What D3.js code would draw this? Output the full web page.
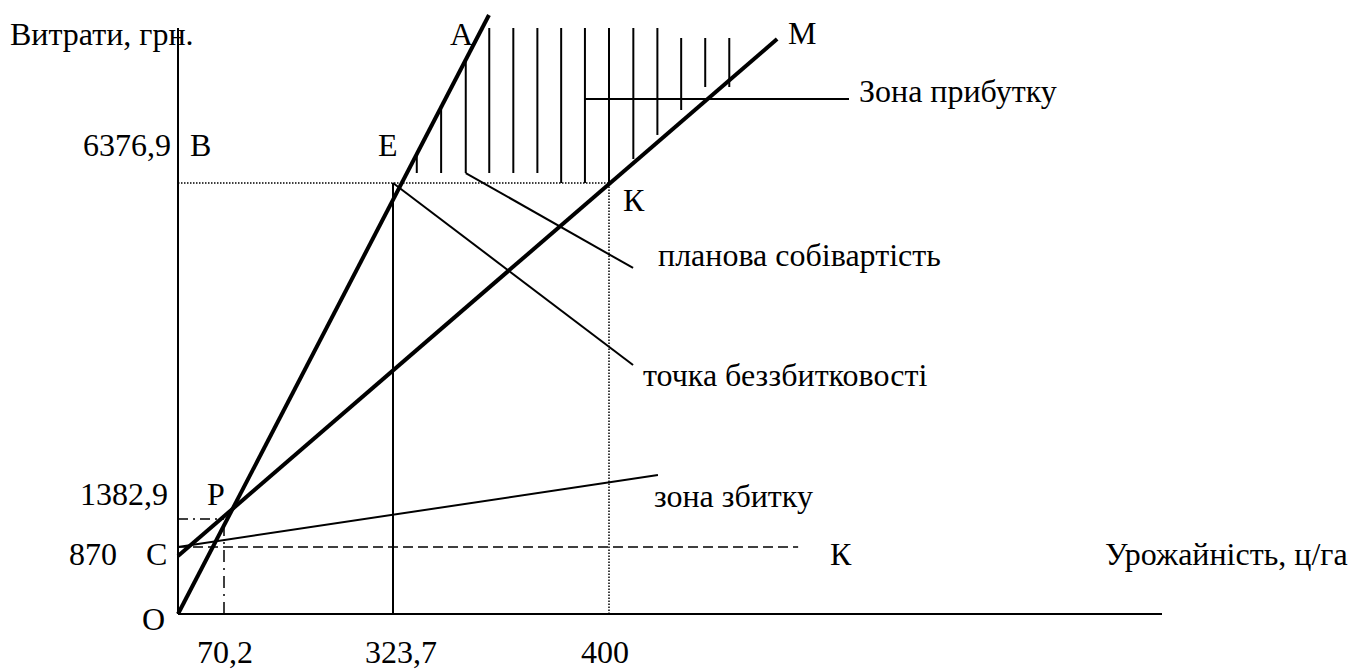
<!DOCTYPE html>
<html>
<head>
<meta charset="utf-8">
<script src="https://cdn.jsdelivr.net/npm/d3@7"></script>
<style>
  body { margin: 0; background: #fff; }
  svg text { font-family: "Liberation Serif", "Times New Roman", Times, "DejaVu Serif", serif; font-size: 32px; fill: #000; }
</style>
</head>
<body>
<div id="chart"></div>
<script>
var xTicks = [70.2, 323.7, 400];          // урожайність, ц/га
var yTicks = [870, 1382.9, 6376.9];       // витрати, грн
var xTickLabels = ["70,2", "323,7", "400"];
var yTickLabels = ["870", "1382,9", "6376,9"];

var costLine = [[0, 0], [357.6, 8885]];         // O -> A
var revenueLine = [[0, 753], [460.8, 8527]];    // -> M
var lossLine = [[0, 870], [417.7, 2037]];       // C -> зона збитку
var fixedLine = [[0, 870], [468.4, 870]];       // C -> K

// hatch of the profit zone
var hatchX = [332.1, 340.7, 349.4, 357.7, 366.2, 374.7, 383.1, 391.5, 400, 408.8, 417.5, 426.1, 434.8, 443.5];
var hatchTop = [6810, 7504, 8213, 8691, 8691, 8691, 8691, 8691, 8691, 8691, 8691, 8542, 8542, 8542];
var hatchBottom = [6526, 6526, 6526, 6526, 6526, 6526, 6376.9, 6376.9, 6376.9, 6735, 7094, 7467, 7810, 7810];

// pointer lines to the captions
var pointerBreakEven = [[323.7, 6376.9], [408.7, 3672]];
var pointerPlan = [[349.4, 6526], [408.7, 5114]];
var pointerProfit = [[391.5, 7631], [486.8, 7631]];

var xMax = 600, yAxisTop = 8691;

// --- SCALES (scheme is not to scale, so piecewise) ---
var xScale = d3.scaleLinear()
    .domain([0, 70.2, 323.7, 400, 600])
    .range([178, 224, 393, 609, 1162]);
var yScale = d3.scaleLinear()
    .domain([0, 870, 1382.9, 6376.9, 8900])
    .range([614, 547, 519, 183, 14]);

var svg = d3.select("#chart")
    .append("svg")
    .attr("width", 1349)
    .attr("height", 671)
    .attr("font-family", "'Liberation Serif', 'Times New Roman', serif");

var line = d3.line()
    .x(function(d){ return xScale(d[0]); })
    .y(function(d){ return yScale(d[1]); });

function drawLine(pts, width, dash){
    var p = svg.append("path")
        .datum(pts)
        .attr("fill", "none")
        .attr("stroke", "#000")
        .attr("stroke-width", width)
        .attr("d", line);
    if (dash) p.attr("stroke-dasharray", dash);
    return p;
}

// Axes
drawLine([[0, 0], [0, yAxisTop]], 2);
drawLine([[0, 0], [xMax, 0]], 2);

// guide lines
drawLine([[0, yTicks[2]], [xTicks[2], yTicks[2]]], 1.5, "1.5,1.5");
drawLine([[xTicks[2], 0], [xTicks[2], yTicks[2]]], 1.5, "1.5,1.5");
drawLine([[xTicks[1], 0], [xTicks[1], yTicks[2]]], 2);
drawLine([[0, yTicks[1]], [xTicks[0], yTicks[1]]], 1.5, "10,5,2,5");
drawLine([[xTicks[0], 0], [xTicks[0], yTicks[1]]], 1.5, "12,6,2,6");
drawLine(fixedLine, 1.5, "10,5");
drawLine(lossLine, 2);

// hatch
svg.append("g")
    .selectAll("line")
    .data(hatchX)
    .enter()
    .append("line")
    .attr("x1", function(d){ return xScale(d); })
    .attr("x2", function(d){ return xScale(d); })
    .attr("y1", function(d, i){ return yScale(hatchTop[i]); })
    .attr("y2", function(d, i){ return yScale(hatchBottom[i]); })
    .attr("stroke", "#000")
    .attr("stroke-width", 2);

// pointers
drawLine(pointerBreakEven, 2);
drawLine(pointerPlan, 2);
drawLine(pointerProfit, 2);

// main lines
drawLine(costLine, 4);
drawLine(revenueLine, 4);

// tick labels
var xOffsets = [-27, -28, -28];
svg.append("g")
    .selectAll("text")
    .data(xTicks)
    .enter()
    .append("text")
    .attr("x", function(d, i){ return xScale(d) + xOffsets[i]; })
    .attr("y", 663)
    .text(function(d, i){ return xTickLabels[i]; });

var yLabelX = [117, 168, 171];
var yLabelDy = [18, -14, -27];
svg.append("g")
    .selectAll("text")
    .data(yTicks)
    .enter()
    .append("text")
    .attr("x", function(d, i){ return yLabelX[i]; })
    .attr("y", function(d, i){ return yScale(d) + yLabelDy[i]; })
    .attr("text-anchor", "end")
    .text(function(d, i){ return yTickLabels[i]; });

// captions and point letters
var captions = [
    ["Витрати, грн.", 10, 45],
    ["В", 190, 156],
    ["Е", 378, 156],
    ["А", 450, 45],
    ["М", 788, 44],
    ["Зона прибутку", 859, 102],
    ["К", 623, 211],
    ["планова собівартість", 658, 266],
    ["точка беззбитковості", 643, 386],
    ["Р", 207, 505],
    ["зона збитку", 654, 507],
    ["С", 146, 565],
    ["К", 830, 565],
    ["Урожайність, ц/га", 1105, 565],
    ["О", 142, 630]
];
svg.append("g")
    .selectAll("text")
    .data(captions)
    .enter()
    .append("text")
    .attr("x", function(d){ return d[1]; })
    .attr("y", function(d){ return d[2]; })
    .text(function(d){ return d[0]; });
</script>
</body>
</html>
